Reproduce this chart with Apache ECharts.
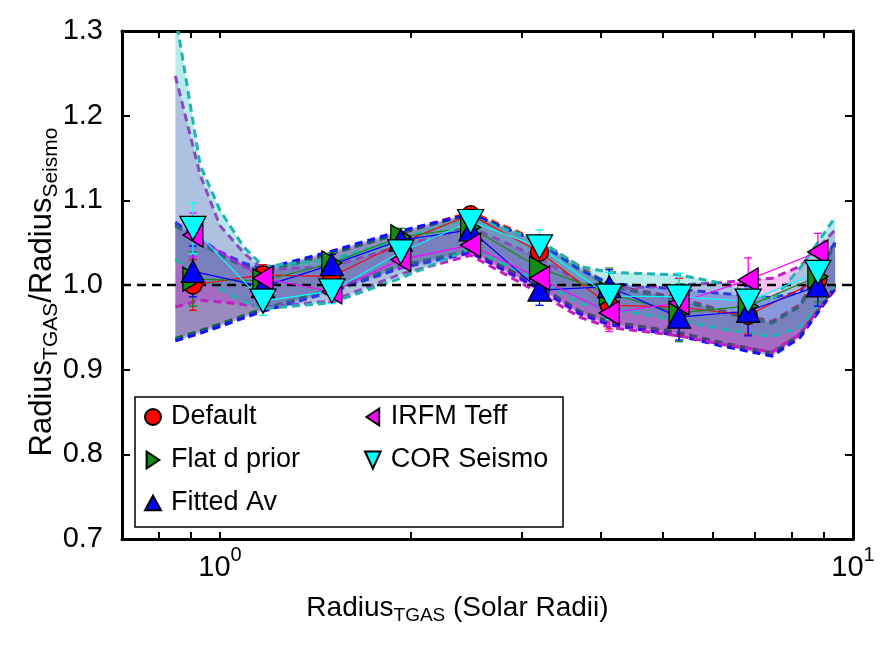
<!DOCTYPE html>
<html>
<head>
<meta charset="utf-8">
<title>Radius TGAS / Radius Seismo</title>
<script src="https://cdn.jsdelivr.net/npm/echarts@6.0.0/dist/echarts.min.js"></script>
<style>
  html, body { margin: 0; padding: 0; background: #fff; }
  #chart { width: 888px; height: 650px; }
</style>
</head>
<body>
<div id="chart"></div>
<script>
// bin centres (Solar Radii)
var radiusBins = [0.906, 1.169, 1.502, 1.93, 2.488, 3.197, 4.12, 5.31, 6.83, 8.80];

// median ratio per bin
var ratioDefault = [1.000, 1.012, 1.010, 1.050, 1.083, 1.039, 0.976, 0.974, 0.964, 1.006];
var ratioFlatD   = [1.007, 1.005, 1.026, 1.057, 1.068, 1.020, 0.990, 0.967, 0.975, 1.010];
var ratioFitAv   = [1.016, 0.998, 1.024, 1.053, 1.065, 0.994, 0.998, 0.962, 0.969, 0.999];
var ratioIrfm    = [1.059, 1.008, 0.992, 1.030, 1.047, 1.008, 0.967, 0.979, 1.006, 1.039];
var ratioCor     = [1.067, 0.981, 0.993, 1.039, 1.075, 1.045, 0.987, 0.986, 0.981, 1.015];

// error of the median
var errDefault = [0.030, 0.012, 0.010, 0.010, 0.008, 0.020, 0.028, 0.034, 0.022, 0.015];
var errFlatD   = [0.032, 0.012, 0.012, 0.010, 0.008, 0.018, 0.030, 0.034, 0.020, 0.030];
var errFitAv   = [0.030, 0.012, 0.012, 0.010, 0.008, 0.018, 0.020, 0.027, 0.029, 0.024];
var errIrfm    = [0.026, 0.012, 0.012, 0.010, 0.012, 0.015, 0.022, 0.020, 0.026, 0.022];
var errCor     = [0.030, 0.017, 0.015, 0.012, 0.010, 0.020, 0.028, 0.028, 0.020, 0.020];

// scatter bands (lower / upper)
var bandX = [0.85, 0.93, 1.0, 1.09, 1.17, 1.5, 1.93, 2.49, 3.2, 3.7, 4.12, 5.31, 6.2, 7.45, 8.25, 9.37];
var bandDefaultLo = [0.936, 0.945, 0.953, 0.963, 0.971, 0.994, 1.022, 1.040, 0.997, 0.968, 0.955, 0.942, 0.930, 0.918, 0.940, 0.995];
var bandDefaultHi = [1.072, 1.052, 1.037, 1.024, 1.017, 1.038, 1.062, 1.086, 1.052, 1.022, 1.000, 0.985, 0.970, 0.957, 0.977, 1.050];
var bandFlatDLo   = [0.937, 0.946, 0.954, 0.964, 0.972, 0.995, 1.023, 1.041, 0.999, 0.969, 0.957, 0.944, 0.932, 0.920, 0.942, 0.998];
var bandFlatDHi   = [1.070, 1.050, 1.035, 1.022, 1.015, 1.037, 1.061, 1.084, 1.051, 1.020, 0.998, 0.983, 0.968, 0.955, 0.975, 1.047];
var bandFitAvLo   = [0.934, 0.943, 0.951, 0.961, 0.969, 0.992, 1.020, 1.038, 0.995, 0.966, 0.953, 0.940, 0.928, 0.916, 0.938, 0.996];
var bandFitAvHi   = [1.074, 1.054, 1.039, 1.026, 1.019, 1.040, 1.064, 1.084, 1.050, 1.018, 1.002, 0.995, 0.990, 0.985, 0.992, 1.050];
var bandIrfmLo    = [0.974, 0.982, 0.980, 0.977, 0.974, 0.981, 1.013, 1.035, 0.990, 0.962, 0.950, 0.940, 0.930, 0.921, 0.942, 0.998];
var bandIrfmHi    = [1.247, 1.130, 1.070, 1.038, 1.018, 1.022, 1.046, 1.068, 1.032, 1.003, 0.995, 1.000, 1.003, 1.008, 1.022, 1.065];
var bandCorLo     = [1.030, 1.010, 0.995, 0.980, 0.972, 0.979, 1.008, 1.043, 1.005, 0.978, 0.972, 0.958, 0.948, 0.939, 0.950, 1.000];
var bandCorHi     = [1.320, 1.142, 1.088, 1.045, 1.022, 1.030, 1.055, 1.080, 1.052, 1.022, 1.015, 1.012, 1.002, 0.982, 1.020, 1.080];

// axes
var yTicks = [0.7, 0.8, 0.9, 1.0, 1.1, 1.2, 1.3];
var xTicks = [0.8, 0.9, 1, 2, 3, 4, 5, 6, 7, 8, 9, 10];
var xLabels = [1, 10];
var xRange = [0.7, 10];
var refLine = 1.0;

window.onload = function () {
    var FONT = 'Liberation Sans';

    // marker shapes: ECharts triangle points up, the others are paths for the legend
    var methods = [
        {name: 'Default',      ratio: ratioDefault, err: errDefault, lo: bandDefaultLo, hi: bandDefaultHi,
         color: '#ff0000', dash: '#ff1a1a', fill: 'rgba(255,0,0,0.18)',   symbol: 'circle',   size: 18,       rot: 0,
         icon: 'circle'},
        {name: 'Flat d prior', ratio: ratioFlatD,   err: errFlatD,   lo: bandFlatDLo,   hi: bandFlatDHi,
         color: '#148c14', dash: '#1e8a1e', fill: 'rgba(0,110,0,0.16)',   symbol: 'triangle', size: [24, 20], rot: -90,
         icon: 'path://M0,0L9,6L0,12Z'},
        {name: 'Fitted Av',    ratio: ratioFitAv,   err: errFitAv,   lo: bandFitAvLo,   hi: bandFitAvHi,
         color: '#0000ff', dash: '#1010ff', fill: 'rgba(0,0,230,0.28)',   symbol: 'triangle', size: [23, 22], rot: 0,
         icon: 'path://M6,0L12,11L0,11Z'},
        {name: 'IRFM Teff',    ratio: ratioIrfm,    err: errIrfm,    lo: bandIrfmLo,    hi: bandIrfmHi,
         color: '#ff00ff', dash: '#c020c0', fill: 'rgba(205,0,205,0.23)', symbol: 'triangle', size: [24, 20], rot: 90,
         icon: 'path://M9,0L0,6L9,12Z'},
        {name: 'COR Seismo',   ratio: ratioCor,     err: errCor,     lo: bandCorLo,     hi: bandCorHi,
         color: '#00ffff', dash: '#22b2b2', fill: 'rgba(0,185,180,0.28)', symbol: 'triangle', size: [26, 24], rot: 180,
         icon: 'path://M0,0L12,0L6,13Z'}
    ];

    var series = [];

    // shaded bands with dashed edges
    methods.forEach(function (m) {
        series.push({
            type: 'custom',
            clip: true,
            z: 1,
            silent: true,
            data: bandX.map(function (x, i) { return [x, m.lo[i], m.hi[i]]; }),
            encode: {x: 0, y: [1, 2]},
            renderItem: function (params, api) {
                if (params.dataIndex !== 0) return null;
                var up = bandX.map(function (x, i) { return api.coord([x, m.hi[i]]); });
                var dn = bandX.map(function (x, i) { return api.coord([x, m.lo[i]]); });
                return {
                    type: 'group',
                    children: [
                        {type: 'polygon', shape: {points: up.concat(dn.slice().reverse())},
                         style: {fill: m.fill, stroke: null}},
                        {type: 'polyline', shape: {points: up},
                         style: {fill: null, stroke: m.dash, lineWidth: 3, lineDash: [8, 5]}},
                        {type: 'polyline', shape: {points: dn},
                         style: {fill: null, stroke: m.dash, lineWidth: 3, lineDash: [8, 5]}}
                    ]
                };
            }
        });
    });

    // y = 1 reference
    series.push({
        type: 'line',
        z: 2,
        silent: true,
        symbol: 'none',
        data: [[xRange[0], refLine], [xRange[1], refLine]],
        lineStyle: {color: '#000', width: 2.5, type: [9, 6]}
    });

    // thin connecting lines
    methods.forEach(function (m) {
        series.push({
            type: 'line',
            z: 3,
            silent: true,
            symbol: 'none',
            data: radiusBins.map(function (x, i) { return [x, m.ratio[i]]; }),
            lineStyle: {color: m.color, width: 1.2}
        });
    });

    // error bars
    methods.forEach(function (m) {
        series.push({
            type: 'custom',
            z: 4,
            silent: true,
            data: radiusBins.map(function (x, i) { return [x, m.ratio[i], m.err[i]]; }),
            encode: {x: 0, y: 1},
            renderItem: function (params, api) {
                var x = api.value(0), y = api.value(1), e = api.value(2);
                var t = api.coord([x, y + e]);
                var b = api.coord([x, y - e]);
                var st = {stroke: m.color, lineWidth: 1.3};
                return {
                    type: 'group',
                    children: [
                        {type: 'line', shape: {x1: t[0], y1: t[1], x2: b[0], y2: b[1]}, style: st},
                        {type: 'line', shape: {x1: t[0] - 4, y1: t[1], x2: t[0] + 4, y2: t[1]}, style: st},
                        {type: 'line', shape: {x1: b[0] - 4, y1: b[1], x2: b[0] + 4, y2: b[1]}, style: st}
                    ]
                };
            }
        });
    });

    // markers
    methods.forEach(function (m) {
        series.push({
            name: m.name,
            type: 'scatter',
            z: 5,
            symbol: m.symbol,
            symbolSize: m.size,
            symbolRotate: m.rot,
            data: radiusBins.map(function (x, i) { return [x, m.ratio[i]]; }),
            itemStyle: {color: m.color, borderColor: '#000', borderWidth: 1.3, opacity: 1}
        });
    });

    var tickFont = {fontFamily: FONT, fontSize: 29, color: '#000'};

    function logAxis(pos, showLabels) {
        return {
            type: 'log',
            logBase: 10,
            position: pos,
            min: xRange[0],
            max: xRange[1],
            axisLine: {show: true, onZero: false, lineStyle: {color: '#000', width: 3}},
            axisTick: {show: true, inside: true, length: 7, customValues: xTicks,
                       lineStyle: {color: '#000', width: 2}},
            axisLabel: {
                show: showLabels,
                customValues: xLabels,
                margin: 6,
                formatter: function (v) {
                    return '{b|10}{p|' + Math.round(Math.log10(v)) + '}';
                },
                rich: {
                    b: {fontFamily: FONT, fontSize: 29, color: '#000', lineHeight: 34, verticalAlign: 'top',
                        padding: [8, 0, 0, 0]},
                    p: {fontFamily: FONT, fontSize: 20, color: '#000', lineHeight: 24, verticalAlign: 'top'}
                }
            },
            splitLine: {show: false}
        };
    }

    function valAxis(pos, showLabels) {
        return {
            type: 'value',
            position: pos,
            min: yTicks[0],
            max: yTicks[yTicks.length - 1],
            interval: 0.1,
            axisLine: {show: true, onZero: false, lineStyle: {color: '#000', width: 3}},
            axisTick: {show: true, inside: true, length: 8, lineStyle: {color: '#000', width: 2}},
            axisLabel: Object.assign({show: showLabels, margin: 19,
                formatter: function (v) { return v.toFixed(1); }}, tickFont),
            splitLine: {show: false}
        };
    }

    var xMain = logAxis('bottom', true);
    xMain.name = '{m|Radius}{s|TGAS}{m| (Solar Radii)}';
    xMain.nameLocation = 'middle';
    xMain.nameGap = 55;
    xMain.nameTextStyle = {
        padding: [0, 60, 0, 0],
        rich: {
            m: {fontFamily: FONT, fontSize: 28, color: '#000', lineHeight: 34, verticalAlign: 'top'},
            s: {fontFamily: FONT, fontSize: 19, color: '#000', lineHeight: 22, verticalAlign: 'top',
                padding: [12, 0, 0, 0]}
        }
    };

    var yMain = valAxis('left', true);
    yMain.name = '{m|Radius}{s|TGAS}{m|/Radius}{s|Seismo}';
    yMain.nameLocation = 'middle';
    yMain.nameMoveOverlap = false;
    yMain.nameGap = 59;
    yMain.nameTextStyle = {
        padding: [0, 14, 0, 0],
        rich: {
            m: {fontFamily: FONT, fontSize: 31, color: '#000', lineHeight: 36, verticalAlign: 'top'},
            s: {fontFamily: FONT, fontSize: 21, color: '#000', lineHeight: 26, verticalAlign: 'top',
                padding: [14, 0, 0, 0]}
        }
    };

    var legendText = {fontFamily: FONT, fontSize: 27, color: '#000', lineHeight: 28, padding: [0, 0, 0, 5]};

    function legendData(list) {
        return list.map(function (m) { return {name: m.name, icon: m.icon}; });
    }

    var chart = echarts.init(document.getElementById('chart'), null, {renderer: 'canvas'});
    chart.setOption({
        animation: false,
        backgroundColor: '#fff',
        grid: {left: 122, right: 35, top: 31, bottom: 111, containLabel: false},
        xAxis: [xMain, logAxis('top', false)],
        yAxis: [yMain, valAxis('right', false)],
        legend: [
            {data: legendData(methods.slice(0, 3)),
             orient: 'vertical', left: 144, top: 403, padding: 0, itemGap: 15,
             itemWidth: 16, itemHeight: 17, textStyle: legendText, selectedMode: false},
            {data: legendData(methods.slice(3)),
             orient: 'vertical', left: 364, top: 403, padding: 0, itemGap: 15,
             itemWidth: 16, itemHeight: 17, textStyle: legendText, selectedMode: false}
        ],
        graphic: [{
            type: 'rect', z: 3, silent: true,
            shape: {x: 135, y: 397, width: 428, height: 130},
            style: {fill: '#fff', stroke: '#000', lineWidth: 1.5}
        }],
        series: series
    });
};
</script>
</body>
</html>
